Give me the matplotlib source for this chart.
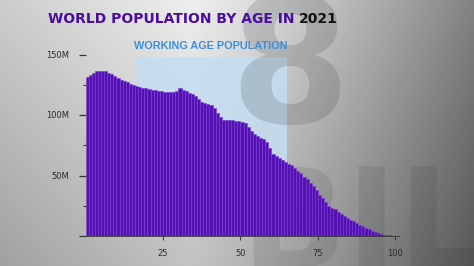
import numpy as np
import matplotlib
matplotlib.use('Agg')
import matplotlib.pyplot as plt
from matplotlib.ticker import FixedLocator

# population by single year of age, millions
ages = list(range(0, 101))
pop_m = [131, 133, 135, 136, 136.5, 136.5, 136, 135, 134, 132,
         130.5, 129, 128, 127, 126, 125, 124, 123, 122.5, 122,
         121.5, 121, 120.5, 120, 119.5, 119, 119, 119, 119, 120,
         122, 121, 120, 118.5, 117, 116, 113, 111, 110, 109,
         108, 106, 102, 98, 96, 95.5, 95.5, 95.5, 95, 95,
         94.5, 93.5, 90, 87, 84, 82.5, 81, 80.5, 78, 73,
         68, 66, 64.5, 62.5, 61, 59.5, 58.5, 56.5, 54, 52,
         49, 47, 44, 41, 38, 34, 31, 28, 25, 23.5,
         22, 20, 18.5, 16.5, 15, 13.5, 12, 10.5, 9.5, 8,
         7, 5.5, 4.5, 3.5, 2.5, 1.8, 1.2, 0.8, 0.5, 0.3, 0.2]
pop = np.array(pop_m) * 1e6

work_start, work_end = 16, 65
yticks = [0, 50e6, 100e6, 150e6]
ylabels = ['', '50M', '100M', '150M']
xticks = [25, 50, 75, 100]

W, H = 474, 266
fig = plt.figure(figsize=(W / 100, H / 100), dpi=100)

# gray studio-like background
xx, yy = np.meshgrid(np.linspace(0, 1, W), np.linspace(0, 1, H))
cx = 0.4
left = 0.93 - 0.13 * np.clip((cx - xx) / cx, 0, 1)
right = 0.93 - 0.42 * np.clip((xx - cx) / (1 - cx), 0, 1) ** 1.2
grad = np.where(xx < cx, left, right) - 0.17 * yy
bg = fig.add_axes([0, 0, 1, 1], zorder=-1)
bg.imshow(grad, cmap='gray', vmin=0, vmax=1, aspect='auto')
bg.axis('off')

ax = fig.add_axes([85.5 / W, 30 / H, 313 / W, 181.5 / H])
ax.patch.set_alpha(0)
ax.axvspan(work_start, work_end, ymax=148 / 150, color='#c4def2', alpha=0.85, lw=0, zorder=1)

# big faded letters behind the chart
ax.text(290 / W, 1 - 123 / H, '8', transform=fig.transFigure, ha='center', va='baseline',
        fontsize=125, fontweight='bold', color='#2a3338', alpha=0.17, zorder=1.5)
ax.text(240 / W, 1 - 268 / H, 'BILLION', transform=fig.transFigure, ha='left', va='baseline',
        fontsize=100, fontweight='bold', color='#2a3338', alpha=0.12, zorder=1.5, clip_on=False)

ax.bar(ages, pop, width=1, align='edge', color='#5510b3', edgecolor='#7a3fd2', lw=0.4, zorder=2)

ax.set_xlim(0, 101)
ax.set_ylim(0, 150e6)
for s in ['top', 'right', 'left']:
    ax.spines[s].set_visible(False)
ax.spines['bottom'].set_color('#333333')
ax.spines['bottom'].set_linewidth(0.6)

ax.set_yticks(yticks)
ax.set_yticklabels(ylabels)
ax.yaxis.set_minor_locator(FixedLocator([25e6, 75e6, 125e6]))
ax.tick_params(axis='y', which='major', length=5, width=0.9, color='#333333', pad=7,
               labelsize=6, labelcolor='#2a2a2a')
ax.tick_params(axis='y', which='minor', length=2.5, width=0.8, color='#333333')
ax.set_xticks(xticks)
ax.tick_params(axis='x', length=3, width=0.7, color='#333333', pad=6.5, labelsize=6,
               labelcolor='#2a2a2a')

t1 = fig.text(48 / W, 1 - 23 / H, 'WORLD POPULATION BY AGE IN ', fontsize=10, fontweight='bold',
              family=['Liberation Sans Narrow', 'DejaVu Sans'], color='#4a0d9e', va='baseline')
fig.canvas.draw()
bb = t1.get_window_extent()
fig.text(bb.x1 / W, 1 - 23 / H, '2021', fontsize=10, fontweight='bold',
         family=['Liberation Sans Narrow', 'DejaVu Sans'], color='#111111', va='baseline')

fig.text(211 / W, 1 - 49 / H, 'WORKING AGE POPULATION', fontsize=7.8, fontweight='bold',
         family=['Liberation Sans', 'DejaVu Sans'], color='#3a8fdf', ha='center', va='baseline')

plt.savefig('out.png', dpi=100)
